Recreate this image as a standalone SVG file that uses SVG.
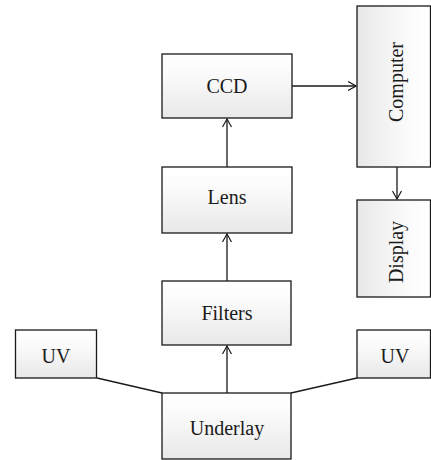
<svg xmlns="http://www.w3.org/2000/svg" width="431" height="460" viewBox="0 0 431 460">
<defs>
<linearGradient id="gv" x1="0" y1="0" x2="0" y2="1">
<stop offset="0" stop-color="#ffffff"/>
<stop offset="0.3" stop-color="#fbfbfb"/>
<stop offset="1" stop-color="#e8e8e8"/>
</linearGradient>
<linearGradient id="gh" x1="0" y1="0" x2="1" y2="0">
<stop offset="0" stop-color="#e8e8e8"/>
<stop offset="0.7" stop-color="#fbfbfb"/>
<stop offset="1" stop-color="#ffffff"/>
</linearGradient>
<marker id="arr" viewBox="0 0 10 10" refX="9" refY="5" markerWidth="10" markerHeight="10" markerUnits="userSpaceOnUse" orient="auto">
<path d="M1,0.5 L9,5 L1,9.5" fill="none" stroke="#1a1a1a" stroke-width="1.2"/>
</marker>
<style>
.box{fill:url(#gv);stroke:#1a1a1a;stroke-width:1.3}
.vbox{fill:url(#gh);stroke:#1a1a1a;stroke-width:1.3}
.t{font-family:"Liberation Serif","Times New Roman",serif;font-size:20px;fill:#1a1a1a;text-anchor:middle}
.c{fill:none;stroke:#1a1a1a;stroke-width:1.3}
</style>
</defs>
<g id="connectors">
<line class="c" x1="292" y1="86" x2="356" y2="86" marker-end="url(#arr)"/>
<line class="c" x1="397" y1="167" x2="397" y2="199" marker-end="url(#arr)"/>
<line class="c" x1="227" y1="167" x2="227" y2="119" marker-end="url(#arr)"/>
<line class="c" x1="227" y1="281" x2="227" y2="234" marker-end="url(#arr)"/>
<line class="c" x1="227" y1="393" x2="227" y2="346" marker-end="url(#arr)"/>
<line class="c" x1="97" y1="378" x2="162" y2="393"/>
<line class="c" x1="357" y1="378" x2="291" y2="393"/>
</g>
<g id="ccd"><rect class="box" x="162" y="54" width="130" height="64"/><text class="t" x="227" y="93">CCD</text></g>
<g id="lens"><rect class="box" x="162" y="167" width="130" height="66"/><text class="t" x="227" y="203.5">Lens</text></g>
<g id="filters"><rect class="box" x="162" y="281" width="129" height="64"/><text class="t" x="227" y="320">Filters</text></g>
<g id="underlay"><rect class="box" x="162" y="393" width="129" height="66"/><text class="t" x="227" y="435">Underlay</text></g>
<g id="uv-left"><rect class="box" x="15.5" y="330" width="81" height="48"/><text class="t" x="56" y="363">UV</text></g>
<g id="uv-right"><rect class="box" x="357" y="330" width="73.5" height="48"/><text class="t" x="395" y="363">UV</text></g>
<g id="computer"><rect class="vbox" x="357" y="6" width="73.5" height="161"/><text class="t" transform="translate(403,82) rotate(-90)">Computer</text></g>
<g id="display"><rect class="vbox" x="357" y="200" width="73.5" height="97"/><text class="t" transform="translate(403,252) rotate(-90)">Display</text></g>
</svg>
